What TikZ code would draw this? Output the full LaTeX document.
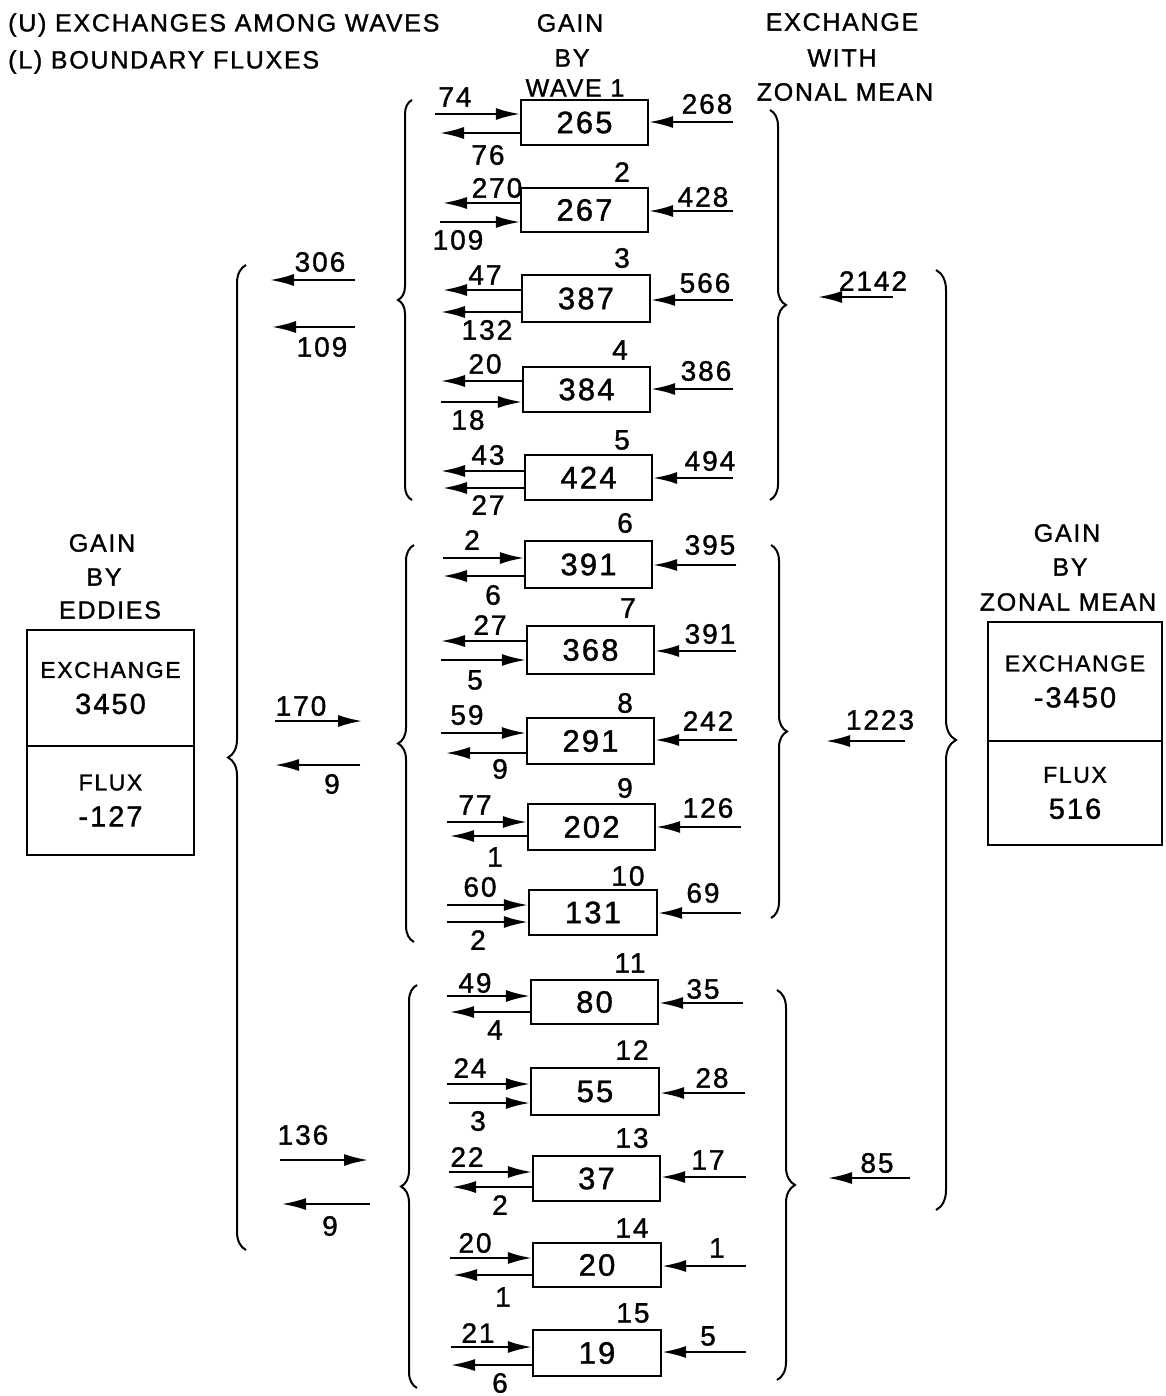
\documentclass[tikz,border=0pt]{standalone}
\usepackage{fontspec}
\setmainfont[LetterSpace=7,FakeBold=1.2]{Liberation Sans}
\usetikzlibrary{arrows.meta,decorations.pathreplacing}
\newcommand\wv[6]{\node[wbox,minimum width={#3pt-#2pt},minimum height={#5pt-#4pt}] (#1) at ({(#2+#3)/2},{(#4+#5)/2}) {#6};}
\newcommand\larr[5]{\coordinate (#1) at (#3,#4); \draw[#5] (#1) -- (#1 -| #2.west);}
\newcommand\rarr[4]{\coordinate (#1) at (#3,#4); \draw[inarr] (#1) -- (#1 -| #2.east);}
\newcommand\lab[4]{\node[lbl] (#1) at (#2,#3) {#4};}
\newcommand\sbf{\fontsize{23}{36}\selectfont}
\newcommand\snf{\fontsize{29}{36}\selectfont}
\tikzset{
  wbox/.style={draw,line width=2.4pt,inner sep=0pt,font=\fontsize{31}{36}\selectfont},
  lbl/.style={inner sep=0pt,font=\fontsize{28}{34}\selectfont},
  hdr/.style={inner sep=0pt,font=\fontsize{25}{34}\selectfont,align=center},
  inarr/.style={line width=2pt,-{Latex[length=24pt,width=12pt]}},
  outarr/.style={line width=2pt,{Latex[length=24pt,width=12pt]}-},
  brL/.style={line width=2pt,decorate,decoration={brace,amplitude=#1}},
  sbox/.style={draw,line width=2.4pt,inner sep=0pt,align=center,font=\sbf}
}
\begin{document}
\begin{tikzpicture}[x=1pt,y=-1pt]
\useasboundingbox (0,0) rectangle (1166,1396);
% headers
\node[hdr,anchor=west] (h1) at (8,25) {(U) EXCHANGES AMONG WAVES};
\node[hdr,anchor=west] (h2) at (8,62) {(L) BOUNDARY FLUXES};
\node[hdr] (h3) at (570,23) {GAIN};
\node[hdr] (h4) at (572,58) {BY};
\node[hdr] (h5) at (575,88) {WAVE 1};
\node[hdr] (h6) at (842,22) {EXCHANGE};
\node[hdr] (h7) at (842,58) {WITH};
\node[hdr] (h8) at (845,92) {ZONAL MEAN};
% wave boxes
\wv{w1}{521}{648}{100}{145}{265}
\wv{w2}{521}{648}{188}{232}{267}
\wv{w3}{522}{650}{275}{322}{387}
\wv{w4}{523}{650}{367}{412}{384}
\wv{w5}{525}{652}{455}{500}{424}
\wv{w6}{525}{652}{541}{588}{391}
\wv{w7}{527}{654}{626}{674}{368}
\wv{w8}{527}{654}{718}{764}{291}
\wv{w9}{528}{655}{804}{850}{202}
\wv{w10}{529}{657}{890}{935}{131}
\wv{w11}{531}{658}{980}{1024}{80}
\wv{w12}{531}{659}{1068}{1115}{55}
\wv{w13}{533}{660}{1156}{1201}{37}
\wv{w14}{533}{661}{1243}{1287}{20}
\wv{w15}{533}{661}{1330}{1376}{19}
% left arrows
\larr{u1}{w1}{435}{114}{inarr}   \larr{d1}{w1}{440}{133}{outarr}
\larr{u2}{w2}{443}{203}{outarr}  \larr{d2}{w2}{440}{222}{inarr}
\larr{u3}{w3}{443}{290}{outarr}  \larr{d3}{w3}{441}{312}{outarr}
\larr{u4}{w4}{441}{381}{outarr}  \larr{d4}{w4}{441}{402}{inarr}
\larr{u5}{w5}{441}{471}{outarr}  \larr{d5}{w5}{443}{488}{outarr}
\larr{u6}{w6}{443}{558}{inarr}   \larr{d6}{w6}{443}{576}{outarr}
\larr{u7}{w7}{441}{641}{outarr}  \larr{d7}{w7}{441}{660}{inarr}
\larr{u8}{w8}{441}{733}{inarr}   \larr{d8}{w8}{446}{753}{outarr}
\larr{u9}{w9}{447}{822}{inarr}   \larr{d9}{w9}{450}{836}{outarr}
\larr{u10}{w10}{447}{905}{inarr} \larr{d10}{w10}{447}{922}{inarr}
\larr{u11}{w11}{447}{996}{inarr} \larr{d11}{w11}{450}{1012}{outarr}
\larr{u12}{w12}{447}{1084}{inarr} \larr{d12}{w12}{449}{1103}{inarr}
\larr{u13}{w13}{449}{1172}{inarr} \larr{d13}{w13}{452}{1187}{outarr}
\larr{u14}{w14}{450}{1258}{inarr} \larr{d14}{w14}{453}{1275}{outarr}
\larr{u15}{w15}{451}{1347}{inarr} \larr{d15}{w15}{451}{1365}{outarr}
% right arrows
\rarr{r1}{w1}{733}{122}   \rarr{r2}{w2}{733}{211}
\rarr{r3}{w3}{733}{300}   \rarr{r4}{w4}{733}{389}
\rarr{r5}{w5}{733}{478}   \rarr{r6}{w6}{736}{565}
\rarr{r7}{w7}{736}{651}   \rarr{r8}{w8}{737}{740}
\rarr{r9}{w9}{741}{827}   \rarr{r10}{w10}{741}{913}
\rarr{r11}{w11}{743}{1003} \rarr{r12}{w12}{745}{1093}
\rarr{r13}{w13}{746}{1177} \rarr{r14}{w14}{746}{1266}
\rarr{r15}{w15}{746}{1352}
% labels
\lab{a1}{455}{97}{74}   \lab{b1}{488}{155}{76}   \lab{c1}{707}{104}{268}
\lab{a2}{497}{188}{270} \lab{b2}{458}{240}{109}  \lab{c2}{703}{197}{428}  \lab{n2}{622}{172}{2}
\lab{a3}{485}{275}{47}  \lab{b3}{487}{330}{132}  \lab{c3}{705}{283}{566}  \lab{n3}{622}{258}{3}
\lab{a4}{485}{364}{20}  \lab{b4}{468}{420}{18}   \lab{c4}{706}{371}{386}  \lab{n4}{620}{350}{4}
\lab{a5}{488}{455}{43}  \lab{b5}{488}{505}{27}   \lab{c5}{710}{461}{494}  \lab{n5}{622}{440}{5}
\lab{a6}{472}{540}{2}   \lab{b6}{493}{595}{6}    \lab{c6}{710}{545}{395}  \lab{n6}{625}{523}{6}
\lab{a7}{490}{625}{27}  \lab{b7}{475}{680}{5}    \lab{c7}{710}{634}{391}  \lab{n7}{628}{608}{7}
\lab{a8}{467}{715}{59}  \lab{b8}{500}{769}{9}    \lab{c8}{708}{721}{242}  \lab{n8}{625}{703}{8}
\lab{a9}{475}{805}{77}  \lab{b9}{495}{857}{1}    \lab{c9}{708}{808}{126}  \lab{n9}{625}{788}{9}
\lab{a10}{480}{887}{60} \lab{b10}{478}{940}{2}   \lab{c10}{703}{893}{69}  \lab{n10}{628}{876}{10}
\lab{a11}{475}{983}{49} \lab{b11}{495}{1030}{4}  \lab{c11}{703}{989}{35}  \lab{n11}{630}{963}{11}
\lab{a12}{470}{1068}{24} \lab{b12}{478}{1121}{3} \lab{c12}{712}{1078}{28} \lab{n12}{632}{1050}{12}
\lab{a13}{467}{1157}{22} \lab{b13}{500}{1205}{2} \lab{c13}{708}{1160}{17} \lab{n13}{632}{1138}{13}
\lab{a14}{475}{1243}{20} \lab{b14}{503}{1297}{1} \lab{c14}{717}{1248}{1}  \lab{n14}{632}{1228}{14}
\lab{a15}{478}{1333}{21} \lab{b15}{500}{1383}{6} \lab{c15}{708}{1336}{5}  \lab{n15}{633}{1313}{15}
% group braces
\draw[brL=14pt] (412,500) -- (412,100);
\draw[brL=16pt] (770,110) -- (770,500);
\draw[brL=16pt] (414,942) -- (414,545);
\draw[brL=16pt] (771,545) -- (771,918);
\draw[brL=16pt] (417,1388) -- (417,985);
\draw[brL=18pt] (777,990) -- (777,1380);
\draw[brL=18pt] (246,1250) -- (246,265);
\draw[brL=20pt] (936,270) -- (936,1210);
% middle arrows, eddies side
\coordinate (m1a) at (355,280); \coordinate (m1b) at (270,280);
\draw[inarr] (m1a) -- (m1b);
\coordinate (m2a) at (355,327); \coordinate (m2b) at (272,327);
\draw[inarr] (m2a) -- (m2b);
\coordinate (m3a) at (275,721); \coordinate (m3b) at (362,721);
\draw[inarr] (m3a) -- (m3b);
\coordinate (m4a) at (360,765); \coordinate (m4b) at (275,765);
\draw[inarr] (m4a) -- (m4b);
\coordinate (m5a) at (280,1160); \coordinate (m5b) at (368,1160);
\draw[inarr] (m5a) -- (m5b);
\coordinate (m6a) at (370,1204); \coordinate (m6b) at (282,1204);
\draw[inarr] (m6a) -- (m6b);
\lab{ml1}{320}{262}{306}
\lab{ml2}{322}{347}{109}
\lab{ml3}{301}{706}{170}
\lab{ml4}{332}{784}{9}
\lab{ml5}{303}{1135}{136}
\lab{ml6}{330}{1226}{9}
% zonal mean side arrows
\coordinate (z1a) at (893,297); \coordinate (z1b) at (818,297);
\draw[inarr] (z1a) -- (z1b);
\coordinate (z2a) at (905,741); \coordinate (z2b) at (826,741);
\draw[inarr] (z2a) -- (z2b);
\coordinate (z3a) at (910,1178); \coordinate (z3b) at (828,1178);
\draw[inarr] (z3a) -- (z3b);
\lab{zl1}{873}{281}{2142}
\lab{zl2}{880}{720}{1223}
\lab{zl3}{877}{1163}{85}
% eddies box
\node[hdr] (e1) at (102,543) {GAIN};
\node[hdr] (e2) at (104,577) {BY};
\node[hdr] (e3) at (110,610) {EDDIES};
\node[sbox,minimum width=167pt,minimum height=116pt] (eb1) at (110.5,688) {\sbf EXCHANGE\\\snf 3450};
\node[sbox,minimum width=167pt,minimum height=109pt,anchor=north] (eb2) at ([yshift=2.4pt]eb1.south) {\sbf FLUX\\\snf -127};
% zonal mean box
\node[hdr] (g1) at (1067,533) {GAIN};
\node[hdr] (g2) at (1070,567) {BY};
\node[hdr] (g3) at (1068,602) {ZONAL MEAN};
\node[sbox,minimum width=174pt,minimum height=119pt] (zb1) at (1075,681.5) {\sbf EXCHANGE\\\snf -3450};
\node[sbox,minimum width=174pt,minimum height=104pt,anchor=north] (zb2) at ([yshift=2.4pt]zb1.south) {\sbf FLUX\\\snf 516};
\end{tikzpicture}
\end{document}
